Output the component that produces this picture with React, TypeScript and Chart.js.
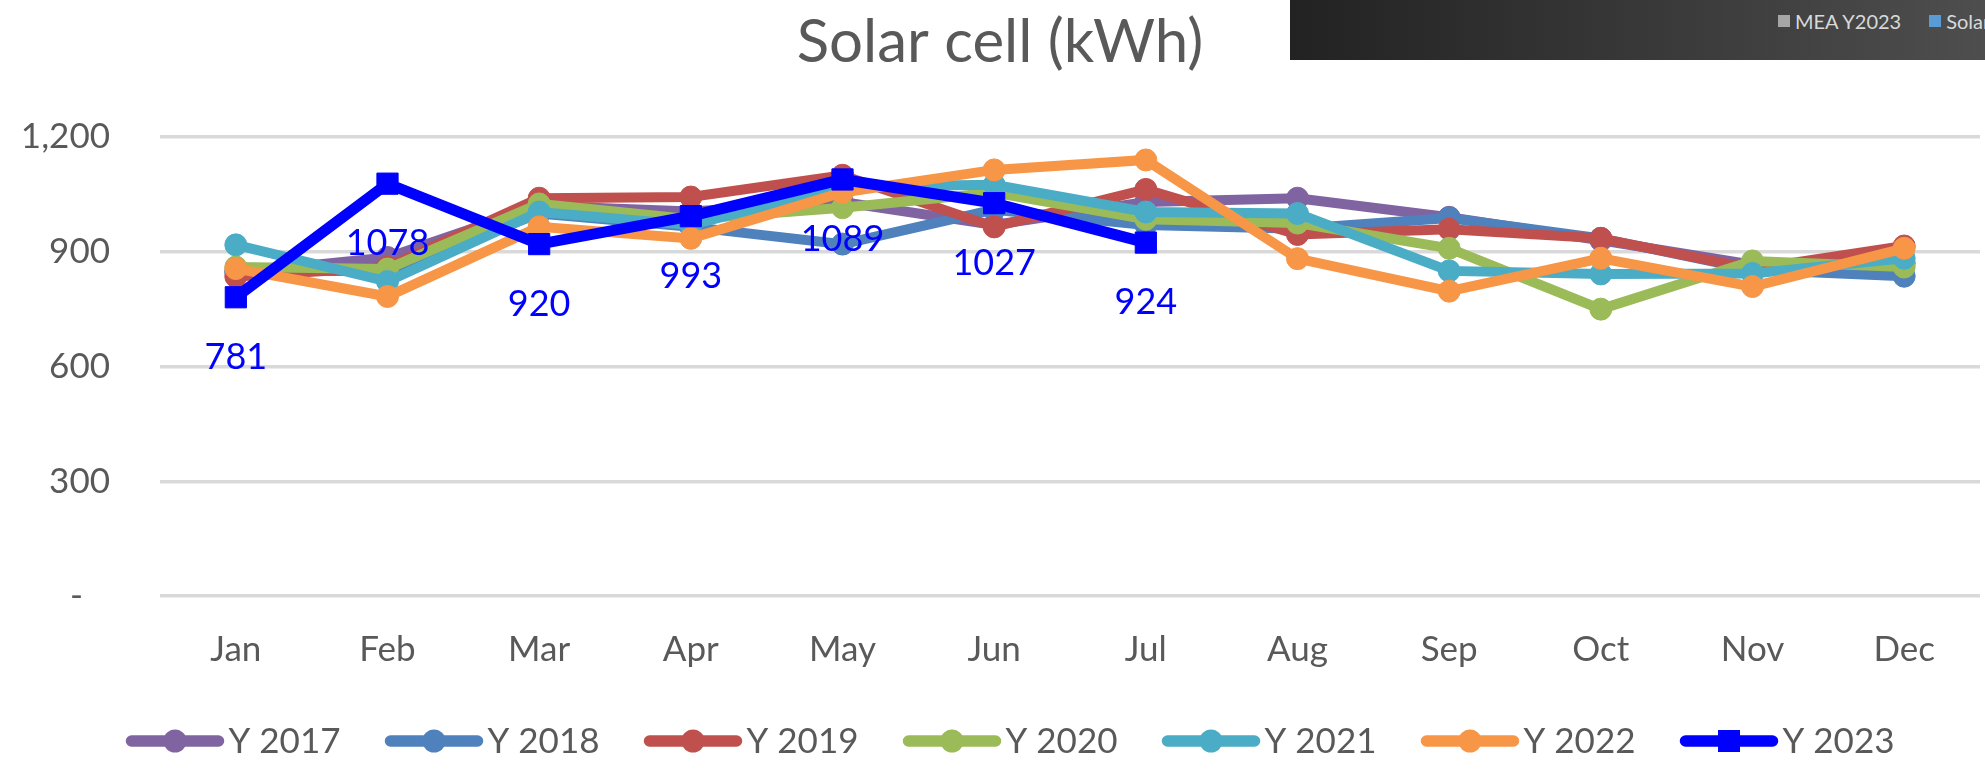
import React, { useEffect, useRef } from 'react';
import { Chart, registerables } from 'chart.js';

Chart.register(...registerables);

const months = ['Jan', 'Feb', 'Mar', 'Apr', 'May', 'Jun', 'Jul', 'Aug', 'Sep', 'Oct', 'Nov', 'Dec'];
const seriesNames = ['Y 2017', 'Y 2018', 'Y 2019', 'Y 2020', 'Y 2021', 'Y 2022', 'Y 2023'];

const y2017 = [845, 885, 1020, 1005, 1030, 970, 1030, 1040, 990, 930, 866, 870];
const y2018 = [850, 850, 1000, 965, 920, 1010, 970, 960, 988, 935, 853, 836];
const y2019 = [835, 860, 1040, 1043, 1100, 965, 1063, 945, 959, 935, 855, 915];
const y2020 = [860, 855, 1025, 985, 1015, 1055, 985, 975, 909, 750, 876, 860];
const y2021 = [918, 822, 1004, 970, 1070, 1075, 1004, 1000, 850, 842, 843, 883];
const y2022 = [856, 783, 965, 935, 1055, 1114, 1140, 882, 797, 883, 809, 909];
const y2023 = [781, 1078, 920, 993, 1089, 1027, 924, null, null, null, null, null];

const seriesValues = [y2017, y2018, y2019, y2020, y2021, y2022, y2023];
const seriesColors = ['#8064A2', '#4F81BD', '#C0504D', '#9BBB59', '#4BACC6', '#F79646', '#0000FF'];

const yMin = 0;
const yMax = 1200;
const yStep = 300;

const titleText = 'Solar cell (kWh)';
const overlayLabels = ['MEA Y2023', 'Solar cell Y2023'];
const overlayColors = ['#a5a5a5', '#5b9bd5'];

const FONT = 'Lato, "Open Sans", sans-serif';
const TEXT = '#595959';

const legendPlugin = {
  id: 'lineMarkerLegend',
  afterDraw(chart: any) {
    const ctx = chart.ctx;
    const datasets = chart.data.datasets;
    const pitch = 259;
    const lineW = 99;
    const y = chart.height - 30;
    ctx.save();
    ctx.font = `35px ${FONT}`;
    const lastW = ctx.measureText(datasets[datasets.length - 1].label).width;
    const total = (datasets.length - 1) * pitch + lineW + 5 + lastW;
    let x = chart.width / 2 + 18 - total / 2;
    datasets.forEach((ds: any) => {
      ctx.strokeStyle = ds.borderColor;
      ctx.lineWidth = 11.5;
      ctx.lineCap = 'round';
      ctx.beginPath();
      ctx.moveTo(x + 6, y);
      ctx.lineTo(x + lineW - 6, y);
      ctx.stroke();
      ctx.fillStyle = ds.borderColor;
      const cx = x + lineW / 2;
      if (ds.pointStyle === 'rect') {
        ctx.fillRect(cx - 11, y - 11, 22, 22);
      } else {
        ctx.beginPath();
        ctx.arc(cx, y, 11.5, 0, Math.PI * 2);
        ctx.fill();
      }
      ctx.fillStyle = TEXT;
      ctx.textAlign = 'left';
      ctx.textBaseline = 'middle';
      ctx.fillText(ds.label, x + lineW + 4, y + 1);
      x += pitch;
    });
    ctx.restore();
  },
};

const dataLabelPlugin = {
  id: 'y2023Labels',
  afterDatasetsDraw(chart: any) {
    const idx = chart.data.datasets.length - 1;
    const meta = chart.getDatasetMeta(idx);
    const values = chart.data.datasets[idx].data;
    const ctx = chart.ctx;
    ctx.save();
    ctx.font = `36px ${FONT}`;
    ctx.fillStyle = '#0000FF';
    ctx.textAlign = 'center';
    ctx.textBaseline = 'middle';
    meta.data.forEach((pt: any, i: number) => {
      const v = values[i];
      if (v === null || v === undefined) return;
      ctx.fillText(String(v), pt.x, pt.y + 60);
    });
    ctx.restore();
  },
};

export default function App() {
  const canvasRef = useRef<HTMLCanvasElement | null>(null);

  useEffect(() => {
    if (!canvasRef.current) return;
    const n = seriesNames.length;
    const chart = new Chart(canvasRef.current, {
      type: 'line',
      data: {
        labels: months,
        datasets: seriesNames.map((name, i) => {
          const isLast = i === n - 1;
          return {
            label: name,
            data: seriesValues[i],
            borderColor: seriesColors[i],
            backgroundColor: seriesColors[i],
            borderWidth: isLast ? 11 : 10,
            pointStyle: isLast ? 'rect' : 'circle',
            pointRadius: isLast ? 15 : 11,
            pointBorderWidth: 1,
            pointBackgroundColor: seriesColors[i],
            pointBorderColor: seriesColors[i],
            tension: 0,
            fill: false,
            spanGaps: false,
            clip: false,
            order: n - i,
          };
        }),
      },
      options: {
        animation: false,
        responsive: false,
        devicePixelRatio: 1,
        layout: { autoPadding: false, padding: { left: 20, right: 5, top: 0, bottom: 75 } },
        plugins: {
          legend: { display: false },
          tooltip: { enabled: false },
          title: {
            display: true,
            text: titleText,
            color: TEXT,
            font: { family: FONT, size: 60, weight: 'normal' },
            padding: { top: 7, bottom: 58 },
          },
        },
        scales: {
          x: {
            offset: true,
            grid: { display: false, drawTicks: false },
            border: { display: false },
            ticks: { color: TEXT, font: { family: FONT, size: 35 }, padding: 33, maxRotation: 0, autoSkip: false },
            afterFit: (scale: any) => {
              scale.height = 100;
              scale.paddingLeft = 0;
              scale.paddingRight = 0;
            },
          },
          y: {
            min: yMin,
            max: yMax,
            grid: { color: '#d9d9d9', lineWidth: 3.5, drawTicks: false },
            border: { display: false },
            ticks: {
              stepSize: yStep,
              color: TEXT,
              font: { family: FONT, size: 35 },
              padding: 50,
              callback: (v: any) => (Number(v) === 0 ? '-   ' : Number(v).toLocaleString('en-US')),
            },
            afterFit: (scale: any) => {
              scale.width = 140;
            },
          },
        },
      },
      plugins: [dataLabelPlugin, legendPlugin],
    });
    return () => chart.destroy();
  }, []);

  return (
    <div style={{ position: 'absolute', left: 0, top: 0, width: 1985, height: 771, overflow: 'hidden', background: '#fff' }}>
      <canvas ref={canvasRef} width={1985} height={771} style={{ display: 'block' }} />
      <div
        style={{
          position: 'absolute',
          left: 1290,
          top: 0,
          width: 695,
          height: 60,
          background: 'linear-gradient(to right, #222222, #4e4e4e)',
          overflow: 'hidden',
        }}
      >
        <div style={{ position: 'absolute', left: 488, top: 9, whiteSpace: 'nowrap', display: 'flex', alignItems: 'center', fontFamily: FONT, fontSize: 20, color: '#d9d9d9' }}>
          {overlayLabels.map((t, i) => (
            <span key={t} style={{ display: 'inline-flex', alignItems: 'center', marginRight: 28 }}>
              <span style={{ display: 'inline-block', width: 12, height: 12, background: overlayColors[i], marginRight: 5 }} />
              {t}
            </span>
          ))}
        </div>
      </div>
    </div>
  );
}
